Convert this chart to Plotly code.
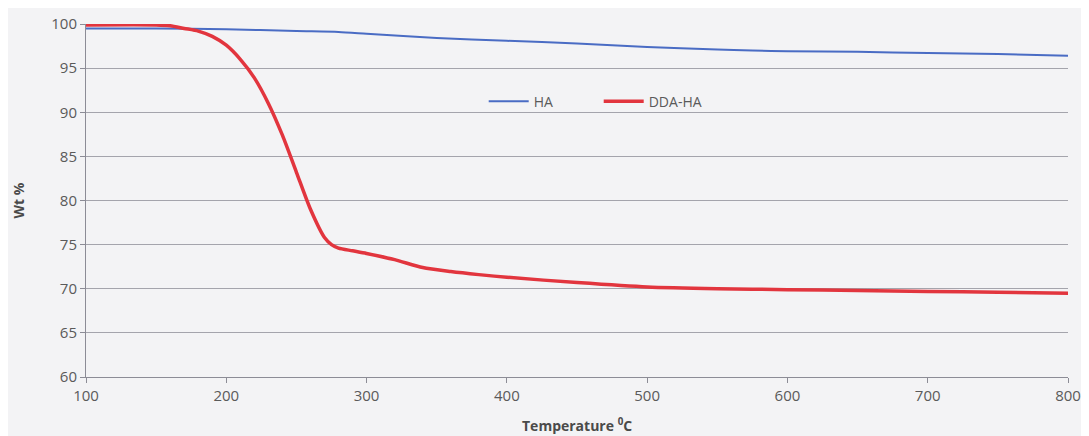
import plotly.graph_objects as go

temp_ha = [100, 150, 200, 250, 280, 300, 350, 400, 450, 500, 550, 575, 600, 650, 700, 750, 800]
wt_ha = [99.5, 99.5, 99.4, 99.2, 99.1, 98.9, 98.4, 98.1, 97.8, 97.4, 97.1, 97.0, 96.9, 96.85, 96.7, 96.6, 96.4]

temp_dda = [100, 150, 160, 170, 180, 190, 200, 210, 220, 230, 240, 250, 260, 270, 275, 280, 290, 300, 320, 340, 360, 380, 400, 450, 500, 550, 600, 650, 700, 750, 800]
wt_dda = [99.9, 99.9, 99.8, 99.5, 99.2, 98.6, 97.6, 96.0, 93.9, 91.0, 87.4, 83.2, 79.0, 75.8, 75.0, 74.6, 74.3, 74.0, 73.3, 72.4, 71.95, 71.6, 71.3, 70.7, 70.2, 70.0, 69.9, 69.8, 69.7, 69.6, 69.5]

x_ticks = [100, 200, 300, 400, 500, 600, 700, 800]
y_ticks = [60, 65, 70, 75, 80, 85, 90, 95, 100]

fig = go.Figure()
fig.add_trace(go.Scatter(x=temp_ha, y=wt_ha, mode="lines", name="HA",
                         line=dict(color="#4a6cc4", width=2, shape="spline", smoothing=0.7)))
fig.add_trace(go.Scatter(x=temp_dda, y=wt_dda, mode="lines", name="DDA-HA",
                         line=dict(color="#e2353e", width=3.5, shape="spline", smoothing=0.7)))

font_family = "Open Sans, Liberation Sans, sans-serif"
fig.update_layout(
    width=1081, height=428,
    margin=dict(l=78, r=21, t=16, b=59, autoexpand=False),
    paper_bgcolor="#f3f3f5", plot_bgcolor="#f3f3f5",
    font=dict(family=font_family, color="#5a5a5a", size=14),
    showlegend=True,
    legend=dict(orientation="h", x=0.405, y=0.78, xanchor="left", yanchor="middle",
                bgcolor="rgba(0,0,0,0)", font=dict(size=14, color="#5a5a5a"),
                entrywidth=60, itemwidth=40),
    xaxis=dict(range=[100, 800], tickvals=x_ticks, showgrid=False, showline=True,
               linecolor="#8c8c96", linewidth=1, ticks="outside", ticklen=5,
               tickcolor="#8c8c96", tickfont=dict(size=15, color="#5a5a5a"),
               zeroline=False, automargin=False),
    yaxis=dict(range=[60, 100], tickvals=y_ticks, showgrid=True, gridcolor="#a4a4ac",
               gridwidth=1, showline=True, linecolor="#8c8c96", linewidth=1,
               ticks="outside", ticklen=5, tickcolor="#8c8c96",
               tickfont=dict(size=15, color="#5a5a5a"),
               zeroline=False, automargin=False),
    annotations=[
        dict(text="<b>Temperature <sup>0</sup>C</b>", xref="paper", yref="paper",
             x=0.5, y=0, xanchor="center", yanchor="middle", yshift=-48,
             showarrow=False, font=dict(size=14, color="#4a4a4a")),
        dict(text="<b>Wt %</b>", xref="paper", yref="paper",
             x=0, y=0.5, xanchor="center", yanchor="middle", xshift=-68,
             textangle=-90, showarrow=False, font=dict(size=14, color="#4a4a4a")),
    ],
)

fig.write_html("out.html")
